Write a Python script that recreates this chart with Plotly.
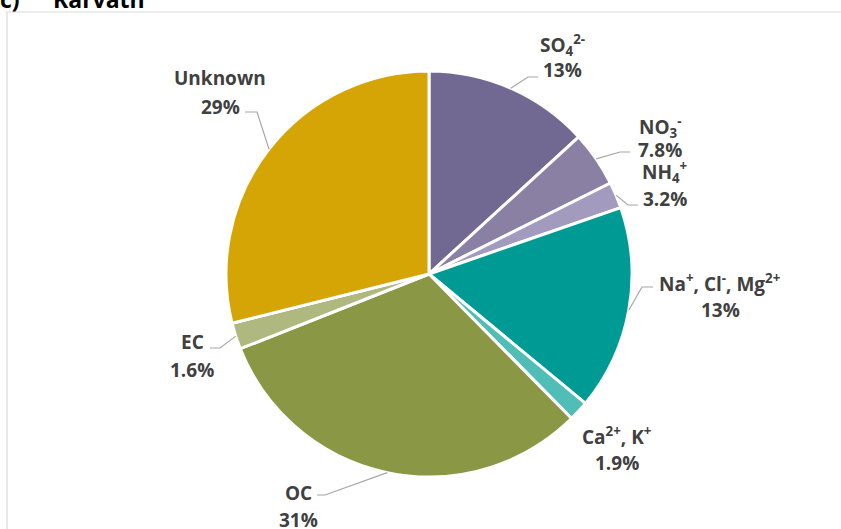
import math
import plotly.graph_objects as go

# ---- data ----
components = ["SO4", "NO3", "NH4", "Na Cl Mg", "Ca K", "OC", "EC", "Unknown"]
slice_share = [13.2, 4.4, 2.1, 16.3, 1.6, 31.4, 2.1, 28.9]
label_names = [
    "SO<sub>4</sub><sup>2-</sup>",
    "NO<sub>3</sub><sup>-</sup>",
    "NH<sub>4</sub><sup>+</sup>",
    "Na<sup>+</sup>, Cl<sup>-</sup>, Mg<sup>2+</sup>",
    "Ca<sup>2+</sup>, K<sup>+</sup>",
    "OC",
    "EC",
    "Unknown",
]
label_pct = ["13%", "7.8%", "3.2%", "13%", "1.9%", "31%", "1.6%", "29%"]
colors = ["#716991", "#8980A4", "#A39BBE", "#009A94", "#50BDB6",
          "#8A9744", "#AFB87F", "#D4A505"]

# ---- layout geometry (pixels) ----
FW, FH = 841, 529
L, T, S = 226, 71, 406  # plot area left, top, size
R = S / 2
CX, CY = L + R, T + R

def px(x):
    return (x - L) / S

def py(y):
    return (T + S - y) / S

# label layout: centre x, line1 y, line2 y, elbow, end of leader
label_layout = [
    (562, 45, 70, (528, 77), (538, 77)),
    (660, 127, 150, (620, 152), (630, 152)),
    (665, 172, 199, (628, 205), (638, 205)),
    (720, 283, 310, (642, 287), (653, 287)),
    (617, 436, 463, None, None),
    (298, 493, 520, (325, 495), (317, 495)),
    (192, 342, 370, (220, 348), (210, 348)),
    (220, 78, 107, (257, 112), (245, 112)),
]

fig = go.Figure(go.Pie(
    labels=components,
    values=slice_share,
    sort=False,
    direction="clockwise",
    rotation=0,
    marker=dict(colors=colors, line=dict(color="white", width=3)),
    textinfo="none",
    hoverinfo="label+percent",
    showlegend=False,
    domain=dict(x=[0, 1], y=[0, 1]),
))

font = dict(family="Open Sans", size=19, color="#404040", weight="bold")
annotations = []
shapes = []
total = sum(slice_share)
cum = 0.0
for i, v in enumerate(slice_share):
    mid = (cum + v / 2) / total * 2 * math.pi
    cum += v
    cx, y1, y2, elbow, end = label_layout[i]
    annotations.append(dict(x=px(cx), y=py(y1), xref="paper", yref="paper",
                            text=label_names[i], showarrow=False, font=font,
                            xanchor="center", yanchor="middle"))
    annotations.append(dict(x=px(cx), y=py(y2), xref="paper", yref="paper",
                            text=label_pct[i], showarrow=False, font=font,
                            xanchor="center", yanchor="middle"))
    if elbow is not None:
        sx = CX + R * math.sin(mid)
        sy = CY - R * math.cos(mid)
        path = "M {:.4f} {:.4f} L {:.4f} {:.4f} L {:.4f} {:.4f}".format(
            px(sx), py(sy), px(elbow[0]), py(elbow[1]), px(end[0]), py(end[1]))
        shapes.append(dict(type="path", path=path, xref="paper", yref="paper",
                           line=dict(color="#A6A6A6", width=1.2)))

# frame
shapes.append(dict(type="rect", xref="paper", yref="paper",
                   x0=px(7), y0=py(535), x1=px(846), y1=py(12),
                   line=dict(color="#D9D9D9", width=1.2), layer="below"))

# clipped title
title_font = dict(family="Open Sans", size=23, color="#000000", weight="bold")
annotations.append(dict(x=px(-2), y=py(-1), xref="paper", yref="paper", text="c)",
                        showarrow=False, font=title_font, xanchor="left", yanchor="middle"))
annotations.append(dict(x=px(51), y=py(-1), xref="paper", yref="paper", text="Karvatn",
                        showarrow=False, font=title_font, xanchor="left", yanchor="middle"))

fig.update_layout(
    width=FW, height=FH,
    margin=dict(l=L, r=FW - L - S, t=T, b=FH - T - S, pad=0),
    paper_bgcolor="white", plot_bgcolor="white",
    annotations=annotations, shapes=shapes,
)
fig.write_html("out.html",
               config={"displayModeBar": False},
               post_script="document.body.style.margin='0';document.body.style.overflow='hidden';")
